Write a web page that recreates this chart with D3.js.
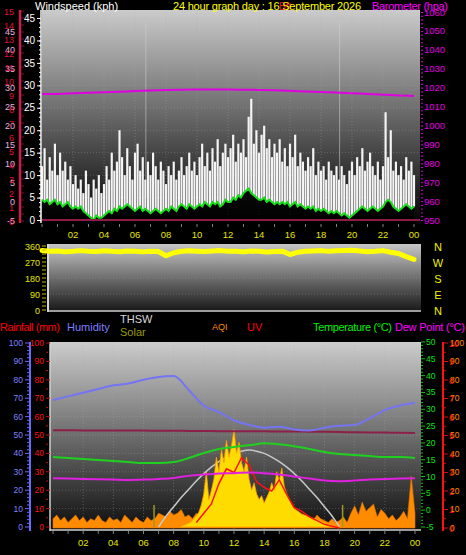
<!DOCTYPE html>
<html><head><meta charset="utf-8">
<script src="https://cdn.jsdelivr.net/npm/d3@7"></script>
<style>
body{margin:0;background:#000;}
svg{display:block;}
text{font-family:"Liberation Sans",Arial,sans-serif;}
</style>
</head><body>
<svg id="c" width="466" height="555"></svg>
<script>
// ---------------- DATA ----------------
const hourLabels = ["02","04","06","08","10","12","14","16","18","20","22","00"];
const hourLabelValues = [2,4,6,8,10,12,14,16,18,20,22,24];
const windTicks = [0,5,10,15,20,25,30,35,40,45];
const pinkTicks = [-5,0,5,10,15,20,25,30,35,40,45];
const redTopTicks = [0,1,2,3,4,5,6,7,8,9,10,11,12,13,14,15];
const baroTicks = [950,960,970,980,990,1000,1010,1020,1030,1040,1050,1060];
const dirTicks = [0,90,180,270,360];
const compass = ["N","W","S","E","N"];
const compassDeg = [360,270,180,90,0];
const pctTicks = [0,10,20,30,40,50,60,70,80,90,100];
const tempTicks = [-5,0,5,10,15,20,25,30,35,40,45,50];
const uvTicks = [0,1,2,3,4,5,6,7,8,9,10];

// gusts (kph) every 10 minutes 00:00 -> 24:00
const gust = [12,16,9,14,11,17,10, 15,11,13,9,12,8, 10,7,9,6,11,8, 5,9,7,10,6,8,
  12,9,15,11,13,20, 14,10,16,12,9,15, 17,11,14,9,13,10, 15,12,9,13,11,8,
  12,10,13,9,11,14, 10,12,15,11,13,10, 14,17,12,15,11,16, 13,18,12,15,17,14,
  16,19,13,17,15,18, 14,23,27,17,20,15, 19,21,16,18,14,17, 15,18,13,16,12,17,
  14,19,12,15,13,11, 14,12,16,10,13,11, 12,9,13,11,10,12, 9,12,10,8,11,13,
  10,14,12,16,11,13, 15,12,10,13,9,12, 24,14,20,11,13,10, 12,9,14,11,13,10];
// average wind (kph) every 10 minutes
const wind = [4.5,4,4.5,3.5,4,4.5,3.5, 4,3,3.5,4,3,2.5, 3,2.5,3,2,1.5,1, 0.5,0,1,0.5,0.5,1,
  1.5,2,1.5,2.5,2,3, 2.5,3,3.5,3,2.5,2, 2.5,3,2,2.5,2,1.5, 2,2.5,2,1.5,2,2.5,
  2,3,2.5,2,3,3.5, 3,2.5,3.5,3,2.5,3, 3.5,3,4,3.5,3,4, 3.5,4,3,3.5,4.5,4,
  4,5,4.5,5.5,5,6, 6.5,7,6,5.5,5,4.5, 4.5,5,4,4.5,4,3.5, 4,3.5,4,3.5,4,3,
  3.5,4,3,3.5,3,2.5, 3,2.5,3,2,2.5,2, 2.5,2,1.5,2,1.5,2, 1.5,1,1.5,1,0.5,1,
  1.5,2,2.5,3,2.5,2, 2.5,3,2.5,2,2.5,3, 4,4.5,4,3,2.5,2, 2.5,3,3.5,3,2.5,3];
// barometer (hPa) hourly
const baro = [1016.6,1016.7,1017.0,1017.3,1017.5,1017.8,1018.2,1018.5,1018.7,1018.9,1019.0,1019.0,1019.0,
  1018.9,1018.8,1018.6,1018.3,1018.0,1017.7,1017.4,1017.0,1016.7,1016.3,1015.9,1015.6];
const sunTimes = [6.7, 19.2];
// wind direction (deg) every 30 minutes
const windDir = [335,330,332,328,330,334,331,329,333,330,328,332,330,327,331,329,305,322,330,333,
  331,329,332,334,330,331,328,332,330,326,329,331,312,325,330,332,334,331,333,335,336,332,328,330,
  334,325,318,300,285];
// bottom panel, hourly
const humidity = [69,71,73,75,77,78,80,81.5,82,74.5,66,62.5,58,55.5,54,54.5,53,52.5,54,55,55.5,59,63.5,66,67.5];
const temperature = [15.8,15.5,15.2,14.9,14.6,14.3,14.0,14.0,14.3,15.5,17.0,18.2,18.8,19.3,19.9,19.6,19.0,18.2,17.3,16.7,16.4,16.1,15.8,15.8,15.5];
const dewPoint = [9.5,9.4,9.3,9.2,9.1,9.0,9.1,9.3,9.6,10.2,10.6,10.9,11.0,11.2,11.0,10.6,10.0,9.4,8.8,8.6,8.8,9.1,9.3,9.4,9.5];
const rainLine = [52.6,52.6,52.5,52.5,52.5,52.4,52.4,52.3,52.3,52.2,52.2,52.1,52.1,52.0,52.0,51.9,51.9,51.8,51.7,51.6,51.5,51.4,51.3,51.2,51.1];
// theoretical solar (W/m2), half-hourly from 07:00 to 19:00
const solarMax = [0,60,110,160,205,250,290,325,355,380,400,412,418,412,400,380,355,325,290,250,205,160,110,60,0];
// solar (W/m2), every 10 minutes from 08:30 to 19:00
const solar = [5,10,15,20,30,45,60,80,120,180,300,150,200,260,380,300,420,350,470,380,440,530,400,460,350,300,380,260,
  200,240,180,150,170,130,160,190,240,200,300,250,320,220,180,150,120,100,90,80,70,65,60,55,50,45,40,35,30,25,20,15,10,6,3,0];
// UV index, half-hourly from 09:30 to 19:00
const uv = [0.3,0.8,1.3,2.4,3.2,3.0,3.8,3.4,2.5,2.2,2.0,2.6,1.8,1.1,0.9,0.6,0.4,0.2,0.1,0];
// AQI, every 15 minutes 00:00 -> 24:00
const aqi = [5,7,4,6, 3,5,7,4, 6,3,5,4, 7,4,3,6, 4,5,3,7, 5,3,6,4, 3,6,4,5, 8,7,6,9,
  7,8,10,6, 7,5,8,6, 9,6,7,10, 7,11,8,6, 9,7,10,8, 6,9,7,8, 10,7,9,6, 8,6,7,9,
  6,8,5,7, 6,4,7,5, 4,3,5,3, 4,6,3,8, 12,7,14,9, 11,13,6,10, 8,5,7,4, 6,9,5,28, 8];

// ---------------- SCALES ----------------
const xTop = d3.scaleLinear().domain([0,24]).range([42,414]);
const yWind = d3.scaleLinear().domain([0,45]).range([220,18]);
const yPink = d3.scaleLinear().domain([-5,45]).range([220,31]);
const yRedTop = d3.scaleLinear().domain([0,15]).range([221,11]);
const yBaro = d3.scaleLinear().domain([950,1060]).range([220,12]);
const yDir = d3.scaleLinear().domain([0,360]).range([310,246]);
const xBot = d3.scaleLinear().domain([0,24]).range([53,415]);
const yPct = d3.scaleLinear().domain([0,100]).range([527,343]);
const yTemp = d3.scaleLinear().domain([-5,50]).range([527,342]);
const yUV = d3.scaleLinear().domain([0,10]).range([528,343]);
const yAQI = d3.scaleLinear().domain([0,100]).range([528,343]);
const ySolar = d3.scaleLinear().domain([0,1000]).range([527,343]);

const svg = d3.select("#c");
svg.append("rect").attr("width",466).attr("height",555).attr("fill","#000");
const defs = svg.append("defs");
function grad(id,c0,c1){
  const g = defs.append("linearGradient").attr("id",id).attr("x1",0).attr("y1",0).attr("x2",0).attr("y2",1);
  g.append("stop").attr("offset","0%").attr("stop-color",c0);
  g.append("stop").attr("offset","100%").attr("stop-color",c1);
}
grad("gTop","#cbcbcb","#030303");
grad("gMid","#c6c6c6","#161616");
grad("gBot","#cccccc","#0e0e0e");

// ---------------- PANELS ----------------
svg.append("rect").attr("x",42).attr("y",10).attr("width",378).attr("height",213).attr("fill","url(#gTop)");
svg.append("rect").attr("x",47).attr("y",244).attr("width",374).attr("height",68).attr("fill","url(#gMid)");
svg.append("rect").attr("x",50).attr("y",342).attr("width",371).attr("height",188).attr("fill","url(#gBot)");

// grids
const gridH = [2,4,6,8,10,12,14,16,18,20,22];
svg.append("g").selectAll("line").data(gridH).join("line")
  .attr("x1",d=>xTop(d)).attr("x2",d=>xTop(d)).attr("y1",10).attr("y2",222)
  .attr("stroke","#a8a8a8").attr("stroke-opacity",0.35).attr("stroke-dasharray","1,2");
svg.append("g").selectAll("line").data(windTicks.slice(1)).join("line")
  .attr("x1",42).attr("x2",420).attr("y1",d=>yWind(d)).attr("y2",d=>yWind(d))
  .attr("stroke","#b0b0b0").attr("stroke-opacity",0.3).attr("stroke-dasharray","1,2");
svg.append("g").selectAll("line").data(gridH).join("line")
  .attr("x1",d=>xBot(d)).attr("x2",d=>xBot(d)).attr("y1",342).attr("y2",529)
  .attr("stroke","#a8a8a8").attr("stroke-opacity",0.35).attr("stroke-dasharray","1,2");
svg.append("g").selectAll("line").data(pctTicks.slice(1,10)).join("line")
  .attr("x1",50).attr("x2",420).attr("y1",d=>yPct(d)).attr("y2",d=>yPct(d))
  .attr("stroke","#b0b0b0").attr("stroke-opacity",0.3).attr("stroke-dasharray","1,2");
svg.append("g").selectAll("line").data([90,180,270]).join("line")
  .attr("x1",47).attr("x2",421).attr("y1",d=>yDir(d)).attr("y2",d=>yDir(d))
  .attr("stroke","#b0b0b0").attr("stroke-opacity",0.3).attr("stroke-dasharray","1,2");

// ---------------- TOP PANEL DATA ----------------
const step10 = 1/6;
svg.append("g").selectAll("line").data(sunTimes).join("line")
  .attr("x1",d=>xTop(d)).attr("x2",d=>xTop(d)).attr("y1",yWind(44)).attr("y2",yWind(5))
  .attr("stroke","#d0d0d0").attr("stroke-opacity",0.55);
svg.append("path").datum(wind)
  .attr("d",d3.area().x((d,i)=>xTop(i*step10)).y0(yWind(0)).y1(d=>yWind(d)))
  .attr("fill","#000").attr("fill-opacity",0.75);
const bw = xTop(step10)-xTop(0);
svg.append("g").selectAll("rect").data(gust).join("rect")
  .attr("x",(d,i)=>xTop(i*step10)-bw/2+0.2).attr("width",bw-0.4)
  .attr("y",d=>yWind(d)).attr("height",(d,i)=>Math.max(0,yWind(wind[i])-yWind(d)))
  .attr("fill","#f4f4f4");
svg.append("path").datum(wind)
  .attr("d",d3.line().x((d,i)=>xTop(i*step10)).y(d=>yWind(d)))
  .attr("fill","none").attr("stroke","#18e018").attr("stroke-width",2);
svg.append("path").datum(baro)
  .attr("d",d3.line().x((d,i)=>xTop(i)).y(d=>yBaro(d)).curve(d3.curveMonotoneX))
  .attr("fill","none").attr("stroke","#e000e0").attr("stroke-width",2);
svg.append("line").attr("x1",42).attr("x2",420).attr("y1",yWind(0)).attr("y2",yWind(0))
  .attr("stroke","#8c1c44").attr("stroke-width",2);

// top axes
const gW = svg.append("g").attr("transform","translate(41,0)");
gW.call(d3.axisLeft(yWind).tickValues(d3.range(0,46)).tickFormat("").tickSize(2));
gW.call(g=>g.selectAll("line").attr("stroke","#ffffff"));
const gW2 = svg.append("g").attr("transform","translate(41,0)")
  .call(d3.axisLeft(yWind).tickValues(windTicks).tickSize(4).tickPadding(2));
gW2.selectAll("line").attr("stroke","#fff");
gW2.selectAll("text").attr("fill","#ffffff").attr("font-size",10).attr("font-family","Liberation Sans");
gW.select(".domain").remove(); gW2.select(".domain").remove();
svg.append("line").attr("x1",41).attr("x2",41).attr("y1",10).attr("y2",223).attr("stroke","#ffffff").attr("stroke-width",1.5);

svg.append("line").attr("x1",20).attr("x2",20).attr("y1",10).attr("y2",223).attr("stroke","#c8204a").attr("stroke-width",2.5);
svg.append("g").selectAll("line").data(d3.range(0,15.01,0.5)).join("line")
  .attr("x1",21).attr("x2",24).attr("y1",d=>yRedTop(d)).attr("y2",d=>yRedTop(d)).attr("stroke","#7a1030");
svg.append("g").selectAll("text").data(pinkTicks).join("text")
  .attr("x",15).attr("y",d=>yPink(d)+3.5).attr("text-anchor","end")
  .attr("fill","#e8b4dc").attr("font-size",9).text(d=>d);
svg.append("g").selectAll("text").data(redTopTicks).join("text")
  .attr("x",14).attr("y",d=>yRedTop(d)+3.5).attr("text-anchor","end")
  .attr("fill","#e0103a").attr("font-size",9).text(d=>d);

const gB = svg.append("g").attr("transform","translate(421,0)");
gB.call(d3.axisRight(yBaro).tickValues(d3.range(950,1061,2)).tickFormat("").tickSize(2));
gB.selectAll("line").attr("stroke","#d000d0");
gB.select(".domain").remove();
svg.append("g").selectAll("text").data(baroTicks).join("text")
  .attr("x",424).attr("y",d=>yBaro(d)+3.5).attr("fill","#e000e0").attr("font-size",9.5).text(d=>d);

// hour ticks & labels top
svg.append("g").selectAll("line").data(d3.range(0,25)).join("line")
  .attr("x1",d=>xTop(d)).attr("x2",d=>xTop(d)).attr("y1",224).attr("y2",227).attr("stroke","#808080");
svg.append("g").selectAll("text").data(hourLabels).join("text")
  .attr("x",(d,i)=>xTop(hourLabelValues[i])).attr("y",238).attr("text-anchor","middle")
  .attr("fill","#e6e600").attr("font-size",9.5).text(d=>d);

// ---------------- MIDDLE PANEL ----------------
svg.append("line").attr("x1",48).attr("x2",48).attr("y1",244).attr("y2",312).attr("stroke","#d8d8d8").attr("stroke-width",2);
svg.append("line").attr("x1",47).attr("x2",421).attr("y1",311).attr("y2",311).attr("stroke","#c8c8c8").attr("stroke-width",1.5);
svg.append("path").datum(windDir)
  .attr("d",d3.line().x((d,i)=>xTop(i*0.5)).y(d=>yDir(d)))
  .attr("fill","none").attr("stroke","#ffff00").attr("stroke-width",5).attr("stroke-linejoin","round").attr("stroke-linecap","round");
svg.append("g").selectAll("line").data(d3.range(0,361,22.5)).join("line")
  .attr("x1",42).attr("x2",46).attr("y1",d=>yDir(d)).attr("y2",d=>yDir(d)).attr("stroke","#b8b800");
svg.append("g").selectAll("text").data(dirTicks).join("text")
  .attr("x",40).attr("y",d=>yDir(d)+3.5).attr("text-anchor","end")
  .attr("fill","#e6e600").attr("font-size",9).text(d=>d);
svg.append("g").selectAll("text").data(compass).join("text")
  .attr("x",438).attr("y",(d,i)=>yDir(compassDeg[i])+4.5).attr("text-anchor","middle")
  .attr("fill","#f0f000").attr("font-size",11).text(d=>d);

// ---------------- BOTTOM PANEL ----------------
svg.append("path").datum(aqi)
  .attr("d",d3.area().x((d,i)=>xBot(i*0.25)).y0(yAQI(0)).y1(d=>yAQI(d)))
  .attr("fill","#ff8c00").attr("stroke","#e07000").attr("stroke-width",0.6);
svg.append("path").datum(solarMax)
  .attr("d",d3.line().x((d,i)=>xBot(7+i*0.5)).y(d=>ySolar(d)).curve(d3.curveMonotoneX))
  .attr("fill","none").attr("stroke","#c8c8c8").attr("stroke-width",1.5);
svg.append("path").datum(solar)
  .attr("d",d3.area().x((d,i)=>xBot(8.5+i*step10)).y0(ySolar(0)).y1(d=>ySolar(d)))
  .attr("fill","#ffdc00").attr("stroke","#ff9a00").attr("stroke-width",0.8);
svg.append("path").datum(uv)
  .attr("d",d3.line().x((d,i)=>xBot(9.5+i*0.5)).y(d=>yUV(d)))
  .attr("fill","none").attr("stroke","#ff1010").attr("stroke-width",1.5);
svg.append("g").selectAll("line").data(sunTimes).join("line")
  .attr("x1",d=>xBot(d)).attr("x2",d=>xBot(d)).attr("y1",ySolar(0)).attr("y2",ySolar(120))
  .attr("stroke","#9a9a20").attr("stroke-width",1.5);
const lineB = (arr,sc)=>d3.line().x((d,i)=>xBot(i)).y(d=>sc(d)).curve(d3.curveMonotoneX)(arr);
svg.append("path").attr("d",lineB(rainLine,yPct)).attr("fill","none").attr("stroke","#8c2048").attr("stroke-width",2);
svg.append("path").attr("d",lineB(humidity,yPct)).attr("fill","none").attr("stroke","#7474f4").attr("stroke-width",2);
svg.append("path").attr("d",lineB(temperature,yTemp)).attr("fill","none").attr("stroke","#20d020").attr("stroke-width",2);
svg.append("path").attr("d",lineB(dewPoint,yTemp)).attr("fill","none").attr("stroke","#e020e0").attr("stroke-width",2);

svg.append("line").attr("x1",50).attr("x2",50).attr("y1",342).attr("y2",531).attr("stroke","#d0d0d0").attr("stroke-width",1.5);
svg.append("line").attr("x1",50).attr("x2",421).attr("y1",530).attr("y2",530).attr("stroke","#d0d0d0").attr("stroke-width",1.5);

// bottom left axes
svg.append("line").attr("x1",30).attr("x2",30).attr("y1",342).attr("y2",531).attr("stroke","#6a6aff").attr("stroke-width",2);
svg.append("g").selectAll("line").data(d3.range(0,101,2)).join("line")
  .attr("x1",d=>d%10===0?25:27).attr("x2",29).attr("y1",d=>yPct(d)).attr("y2",d=>yPct(d)).attr("stroke","#6a6aff");
svg.append("g").selectAll("text").data(pctTicks).join("text")
  .attr("x",23).attr("y",d=>yPct(d)+3).attr("text-anchor","end").attr("fill","#8080ff").attr("font-size",8.5).text(d=>d);
svg.append("g").selectAll("line").data(d3.range(0,101,5)).join("line")
  .attr("x1",46).attr("x2",d=>d%10===0?50:48).attr("y1",d=>yPct(d)).attr("y2",d=>yPct(d)).attr("stroke","#c01010");
svg.append("g").selectAll("text").data(pctTicks).join("text")
  .attr("x",44).attr("y",d=>yPct(d)+3).attr("text-anchor","end").attr("fill","#ff1010").attr("font-size",8.5).text(d=>d);

// bottom right axes
svg.append("g").selectAll("line").data(d3.range(-5,51,1)).join("line")
  .attr("x1",421).attr("x2",d=>d%5===0?425:423).attr("y1",d=>yTemp(d)).attr("y2",d=>yTemp(d)).attr("stroke","#10c010");
svg.append("g").selectAll("text").data(tempTicks).join("text")
  .attr("x",426).attr("y",d=>yTemp(d)+3).attr("fill","#10e010").attr("font-size",8.5).text(d=>d);
svg.append("line").attr("x1",443).attr("x2",443).attr("y1",342).attr("y2",531).attr("stroke","#ff1010").attr("stroke-width",2);
svg.append("g").selectAll("line").data(d3.range(0,10.01,0.5)).join("line")
  .attr("x1",444).attr("x2",d=>d%1===0?448:446).attr("y1",d=>yUV(d)).attr("y2",d=>yUV(d)).attr("stroke","#d01010");
svg.append("g").selectAll("text").data(pctTicks).join("text")
  .attr("x",450).attr("y",d=>yAQI(d)+2.5).attr("fill","#ff8c00").attr("font-size",8.5).text(d=>d);
svg.append("g").selectAll("text").data(uvTicks).join("text")
  .attr("x",449).attr("y",d=>yUV(d)+3.5).attr("fill","#ff1010").attr("font-size",8.5).text(d=>d);

// bottom hour ticks/labels
svg.append("g").selectAll("line").data(d3.range(0,25)).join("line")
  .attr("x1",d=>xBot(d)).attr("x2",d=>xBot(d)).attr("y1",531).attr("y2",534).attr("stroke","#808080");
svg.append("g").selectAll("text").data(hourLabels).join("text")
  .attr("x",(d,i)=>xBot(hourLabelValues[i])).attr("y",546).attr("text-anchor","middle")
  .attr("fill","#e6e600").attr("font-size",9.5).text(d=>d);

// ---------------- TITLES & LEGEND ----------------
svg.append("text").attr("x",35).attr("y",10).attr("fill","#ffffff").attr("font-size",11).text("Windspeed (kph)");
svg.append("text").attr("x",279).attr("y",10).attr("fill","#e01030").attr("font-size",10).text("Bft");
svg.append("text").attr("x",173).attr("y",10).attr("fill","#ffff00").attr("font-size",11).attr("textLength",188).text("24 hour graph day : 16 September 2026");
svg.append("text").attr("x",372).attr("y",10).attr("fill","#ff00ff").attr("font-size",11).attr("textLength",76).text("Barometer (hpa)");

svg.append("text").attr("x",0).attr("y",331).attr("fill","#ff0000").attr("font-size",11).attr("textLength",60).text("Rainfall (mm)");
svg.append("text").attr("x",67).attr("y",331).attr("fill","#7f7fff").attr("font-size",11).text("Humidity");
svg.append("text").attr("x",120).attr("y",323).attr("fill","#d8d8d8").attr("font-size",11).text("THSW");
svg.append("text").attr("x",120).attr("y",336).attr("fill","#9a9a00").attr("font-size",11).text("Solar");
svg.append("text").attr("x",212).attr("y",330).attr("fill","#ff8c00").attr("font-size",9).text("AQI");
svg.append("text").attr("x",247).attr("y",331).attr("fill","#ff0000").attr("font-size",11).text("UV");
svg.append("text").attr("x",313).attr("y",331).attr("fill","#00ee00").attr("font-size",11).attr("textLength",79).text("Temperature (°C)");
svg.append("text").attr("x",395).attr("y",331).attr("fill","#ff00ff").attr("font-size",11).attr("textLength",70).text("Dew Point (°C)");
</script>
</body></html>
